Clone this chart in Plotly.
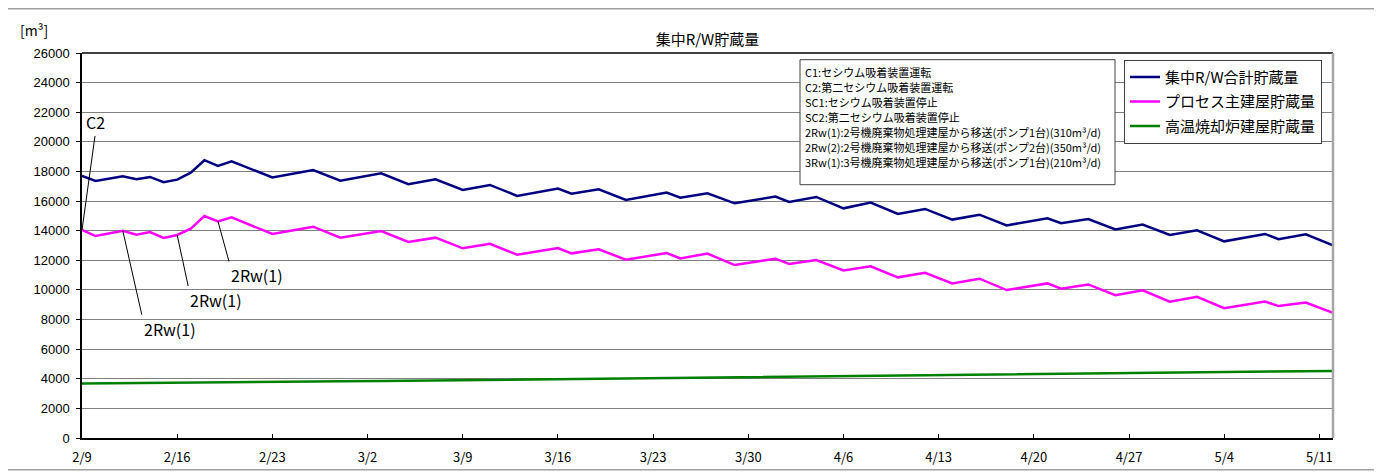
import plotly.graph_objects as go

# ---- data ----
dates = ["2013-02-09", "2013-02-10", "2013-02-12", "2013-02-13", "2013-02-14", "2013-02-15",
         "2013-02-16", "2013-02-17", "2013-02-18", "2013-02-19", "2013-02-20", "2013-02-23",
         "2013-02-26", "2013-02-28", "2013-03-03", "2013-03-05", "2013-03-07", "2013-03-09",
         "2013-03-11", "2013-03-13", "2013-03-16", "2013-03-17", "2013-03-19", "2013-03-21",
         "2013-03-24", "2013-03-25", "2013-03-27", "2013-03-29", "2013-04-01", "2013-04-02",
         "2013-04-04", "2013-04-06", "2013-04-08", "2013-04-10", "2013-04-12", "2013-04-14",
         "2013-04-16", "2013-04-18", "2013-04-21", "2013-04-22", "2013-04-24", "2013-04-26",
         "2013-04-28", "2013-04-30", "2013-05-02", "2013-05-04", "2013-05-07", "2013-05-08",
         "2013-05-10", "2013-05-12"]

total = [17700, 17360, 17680, 17470, 17630, 17270, 17450, 17920, 18760, 18380,
         18690, 17590, 18100, 17380, 17880, 17140, 17470, 16750, 17090, 16350,
         16840, 16500, 16800, 16080, 16570, 16230, 16530, 15850, 16300, 15940,
         16280, 15510, 15900, 15130, 15470, 14750, 15080, 14360, 14840, 14500,
         14790, 14090, 14410, 13710, 14030, 13280, 13780, 13420, 13750, 13010]

process = [14050, 13640, 14000, 13730, 13910, 13510, 13710, 14140, 14990, 14630,
           14900, 13780, 14270, 13530, 13980, 13240, 13530, 12810, 13120, 12380,
           12830, 12470, 12740, 12040, 12490, 12130, 12450, 11680, 12110, 11750,
           12020, 11320, 11590, 10850, 11160, 10440, 10760, 9990, 10440, 10080,
           10370, 9650, 9970, 9200, 9540, 8770, 9220, 8910, 9150, 8460]

incinerator = [3680, 3690, 3700, 3710, 3720, 3720, 3730, 3740, 3750, 3750,
               3760, 3780, 3810, 3830, 3850, 3870, 3880, 3900, 3920, 3940,
               3970, 3980, 3990, 4010, 4040, 4050, 4060, 4080, 4110, 4120,
               4140, 4160, 4180, 4200, 4220, 4240, 4260, 4280, 4310, 4320,
               4340, 4360, 4380, 4400, 4420, 4440, 4470, 4480, 4500, 4530]

series_names = ["集中R/W合計貯蔵量", "プロセス主建屋貯蔵量", "高温焼却炉建屋貯蔵量"]
series_colors = ["#000080", "#FF00FF", "#008000"]

notes = ["C1:セシウム吸着装置運転",
         "C2:第二セシウム吸着装置運転",
         "SC1:セシウム吸着装置停止",
         "SC2:第二セシウム吸着装置停止",
         "2Rw(1):2号機廃棄物処理建屋から移送(ポンプ1台)(310m³/d)",
         "2Rw(2):2号機廃棄物処理建屋から移送(ポンプ2台)(350m³/d)",
         "3Rw(1):3号機廃棄物処理建屋から移送(ポンプ1台)(210m³/d)"]

# ---- layout geometry (page pixels; the page body adds an 8px offset) ----
OFF = 8
W, H = 1382 - OFF, 472 - OFF
L, R_edge, T, B = 82, 1333, 53.3, 438.3
PW, PH = R_edge - L, B - T


def px(xp):
    return (xp - L) / PW


def py(yp):
    return (B - yp) / PH


JP = "Noto Sans CJK JP"

fig = go.Figure()
for name, vals, col in zip(series_names, [total, process, incinerator], series_colors):
    fig.add_trace(go.Scatter(x=dates, y=vals, mode="lines", name=name,
                             line=dict(color=col, width=2.5), legendgroup=name))

fig.update_layout(
    width=W, height=H,
    margin=dict(l=L - OFF, r=W - (R_edge - OFF), t=T - OFF, b=H - (B - OFF), autoexpand=False),
    paper_bgcolor="white", plot_bgcolor="white",
    font=dict(family=JP, color="black"),
    title=dict(text="集中R/W貯蔵量", x=0.5, xref="paper", xanchor="center",
               y=1 - (40 - OFF) / H, yanchor="middle", font=dict(size=15, family=JP)),
    showlegend=True,
    legend=dict(x=px(1124), y=py(60), xanchor="left", yanchor="top",
                bgcolor="white", bordercolor="#404040", borderwidth=1,
                font=dict(size=15, family=JP), traceorder="grouped", tracegroupgap=2,
                itemwidth=30),
)

fig.update_xaxes(type="date", range=["2013-02-09", "2013-05-12"], automargin=False,
                 tick0="2013-02-09", dtick=7 * 86400000, tickformat="%-m/%-d",
                 ticks="inside", ticklen=4, tickcolor="black",
                 showline=True, linecolor="black", linewidth=2,
                 showgrid=False, zeroline=False,
                 tickfont=dict(size=13, family=JP), ticklabelstandoff=6)
fig.update_yaxes(range=[0, 26000], dtick=2000, tickformat="d", automargin=False,
                 ticks="outside", ticklen=4, tickcolor="black",
                 showline=True, linecolor="black", linewidth=1.5,
                 showgrid=True, gridcolor="#808080", gridwidth=1, zeroline=False,
                 tickfont=dict(size=13, family="Liberation Sans"), ticklabelstandoff=4)

shapes = []
# outer chart frame
shapes.append(dict(type="rect", xref="paper", yref="paper",
                   x0=px(5), x1=px(1395), y0=py(470), y1=py(9),
                   line=dict(color="#a0a0a0", width=1.5), layer="below"))
# plot area top & right border
shapes.append(dict(type="line", xref="paper", yref="paper", x0=0, x1=1, y0=1, y1=1,
                   line=dict(color="black", width=1.5)))
shapes.append(dict(type="line", xref="paper", yref="paper", x0=1, x1=1, y0=0, y1=1,
                   line=dict(color="#a6a6a6", width=2.5)))
# notes box
shapes.append(dict(type="rect", xref="paper", yref="paper",
                   x0=px(800), x1=px(1115), y0=py(185), y1=py(60),
                   line=dict(color="#404040", width=1), fillcolor="white", layer="above"))
fig.update_layout(shapes=shapes)

ann = []
ann.append(dict(text="[m³]", xref="paper", yref="paper", x=px(18), y=py(30),
                xanchor="left", yanchor="middle", showarrow=False,
                font=dict(size=14, family=JP)))
for i, line in enumerate(notes):
    ann.append(dict(text=line, xref="paper", yref="paper", x=px(803), y=py(72 + 15 * i),
                    xanchor="left", yanchor="middle", showarrow=False,
                    font=dict(size=11, family=JP)))

# leader-line labels
arrow_style = dict(showarrow=True, arrowhead=0, arrowwidth=1, arrowcolor="black",
                   font=dict(size=16, family=JP), xref="x", yref="y")
ann.append(dict(text="C2", x=dates[0], y=process[0], ax=13, ay=-94,
                xanchor="center", yanchor="bottom", **arrow_style))
ann.append(dict(text="2Rw(1)", x=dates[2], y=process[2], ax=19, ay=84,
                xanchor="left", yanchor="top", **arrow_style))
ann.append(dict(text="2Rw(1)", x=dates[6], y=process[6], ax=11, ay=51,
                xanchor="left", yanchor="top", **arrow_style))
ann.append(dict(text="2Rw(1)", x=dates[9], y=process[9], ax=11, ay=40,
                xanchor="left", yanchor="top", **arrow_style))
fig.update_layout(annotations=ann)

fig.write_html("out.html")
